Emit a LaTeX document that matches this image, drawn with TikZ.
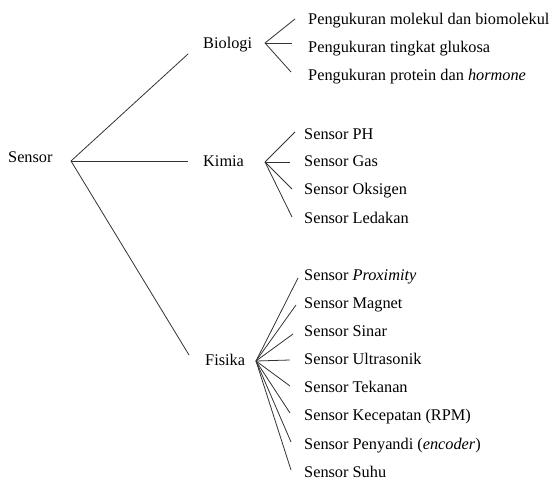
\documentclass[tikz,border=0pt]{standalone}
\usepackage{fontspec}
\setmainfont{Liberation Serif}
\begin{document}
\begin{tikzpicture}[x=1bp,y=-1bp,
  lbl/.style={anchor=base west,inner sep=0pt,font=\fontsize{16.3bp}{19bp}\selectfont},
  conn/.style={draw=black!80,line width=0.8bp}]
\useasboundingbox (0,0) rectangle (553,484);
% root
\node[lbl] (sensor) at (8,163) {Sensor};
\coordinate (j0) at (71,161);
% level 1
\node[lbl] (bio) at (203,49) {Biologi};
\node[lbl] (kim) at (203,167) {Kimia};
\node[lbl] (fis) at (205,365) {Fisika};
\coordinate (e1) at (188,54);
\coordinate (e2) at (188,161);
\coordinate (e3) at (189,355);
\draw[conn] (j0) -- (e1);
\draw[conn] (j0) -- (e2);
\draw[conn] (j0) -- (e3);
% Biologi
\coordinate (jb) at (265,43);
\node[lbl] (b1) at (308,25) {Pengukuran molekul dan biomolekul};
\node[lbl] (b2) at (308,53) {Pengukuran tingkat glukosa};
\node[lbl] (b3) at (308,81) {Pengukuran protein dan \textit{hormone}};
\coordinate (b1e) at (295,19);
\coordinate (b2e) at (292,43);
\coordinate (b3e) at (291,72);
\foreach \e in {b1e,b2e,b3e} \draw[conn] (jb) -- (\e);
% Kimia
\coordinate (jk) at (265,162);
\node[lbl] (k1) at (304,140) {Sensor PH};
\node[lbl] (k2) at (304,167) {Sensor Gas};
\node[lbl] (k3) at (304,195) {Sensor Oksigen};
\node[lbl] (k4) at (304,223) {Sensor Ledakan};
\coordinate (k1e) at (295,132);
\coordinate (k2e) at (290,162);
\coordinate (k3e) at (292,189);
\coordinate (k4e) at (292,217);
\foreach \e in {k1e,k2e,k3e,k4e} \draw[conn] (jk) -- (\e);
% Fisika
\coordinate (jf) at (256,361);
\node[lbl] (f1) at (304,280) {Sensor \textit{Proximity}};
\node[lbl] (f2) at (304,308) {Sensor Magnet};
\node[lbl] (f3) at (304,336) {Sensor Sinar};
\node[lbl] (f4) at (304,364) {Sensor Ultrasonik};
\node[lbl] (f5) at (304,392) {Sensor Tekanan};
\node[lbl] (f6) at (304,420) {Sensor Kecepatan (RPM)};
\node[lbl] (f7) at (304,449) {Sensor Penyandi (\textit{encoder})};
\node[lbl] (f8) at (304,477) {Sensor Suhu};
\coordinate (f1e) at (298,278);
\coordinate (f2e) at (296,305);
\coordinate (f3e) at (293,334);
\coordinate (f4e) at (290,360);
\coordinate (f5e) at (290,386);
\coordinate (f6e) at (290,413);
\coordinate (f7e) at (291,442);
\coordinate (f8e) at (291,470);
\foreach \e in {f1e,f2e,f3e,f4e,f5e,f6e,f7e,f8e} \draw[conn] (jf) -- (\e);
\end{tikzpicture}
\end{document}
